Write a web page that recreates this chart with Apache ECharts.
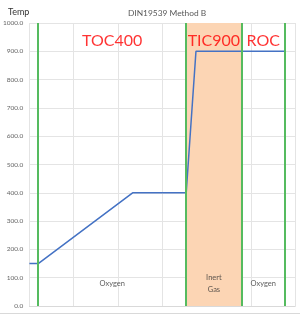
<!DOCTYPE html>
<html>
<head>
<meta charset="utf-8">
<script src="https://cdn.jsdelivr.net/npm/echarts@6/dist/echarts.min.js"></script>
<style>
html,body{margin:0;padding:0;background:#fff;}
#chart{width:300px;height:314px;}
</style>
</head>
<body>
<div id="chart"></div>
<script>
// Time axis (arbitrary grid units) and temperature profile
const timeX = [0, 0.2, 2.33, 3.54, 3.76, 5.77];
const tempY = [150, 150, 400, 400, 900, 900];
// Phase boundaries (green lines)
const phaseBounds = [0.2, 3.54, 4.79, 5.77];
const phaseNames = ['TOC400', 'TIC900', 'ROC'];
const gasNames = ['Oxygen', 'Inert\nGas', 'Oxygen'];
const inertIndex = 1;
const phaseLabelY = 936;
const gasLabelY = 80;
const yMin = 0, yMax = 1000, yStep = 100;
const xMin = 0, xMax = 6, xStep = 1;

const mids = phaseNames.map((n, i) => (phaseBounds[i] + phaseBounds[i + 1]) / 2);

const chart = echarts.init(document.getElementById('chart'), null, {renderer: 'canvas'});
chart.setOption({
  animation: false,
  backgroundColor: '#fff',
  title: [
    {text: 'DIN19539 Method B', left: 123, top: 4,
     textStyle: {fontFamily: 'Lato', fontSize: 8.4, fontWeight: 'normal', color: '#595959'}},
    {text: 'Temp', left: 3, top: 3,
     textStyle: {fontFamily: 'Lato', fontSize: 9, fontWeight: 'normal', color: '#333'}}
  ],
  grid: {left: 26.5, right: 4.8, top: 23, bottom: 8, containLabel: false},
  xAxis: {
    type: 'value', min: xMin, max: xMax, interval: xStep,
    axisLabel: {show: false}, axisTick: {show: false},
    axisLine: {show: true, lineStyle: {color: '#D9D9D9'}},
    splitLine: {show: true, lineStyle: {color: '#E4E4E4', width: 1}}
  },
  yAxis: {
    type: 'value', min: yMin, max: yMax, interval: yStep,
    axisLabel: {formatter: v => v.toFixed(1), fontFamily: 'Lato', fontSize: 6.5, color: '#666', margin: 6},
    axisTick: {show: false}, axisLine: {show: false},
    splitLine: {show: true, lineStyle: {color: '#E4E4E4', width: 1}}
  },
  graphic: [{
    type: 'line', silent: true,
    shape: {x1: 0, y1: 313.5, x2: 300, y2: 313.5},
    style: {stroke: '#D9D9D9', lineWidth: 1}
  }],
  series: [
    {
      type: 'line', name: 'band', data: [], silent: true, z: 1,
      markArea: {
        silent: true,
        itemStyle: {color: '#FCD5B4'},
        data: [[{xAxis: phaseBounds[inertIndex]}, {xAxis: phaseBounds[inertIndex + 1]}]]
      }
    },
    {
      type: 'line', name: 'Temp', z: 3,
      data: timeX.map((x, i) => [x, tempY[i]]),
      symbol: 'none',
      lineStyle: {color: '#4472C4', width: 1.5},
      markLine: {
        silent: true, symbol: 'none', label: {show: false},
        lineStyle: {color: '#55BB5F', width: 2, type: 'solid'},
        data: phaseBounds.map(x => ({xAxis: x}))
      }
    },
    {
      type: 'scatter', name: 'phases', symbolSize: 0, z: 5, silent: true,
      data: phaseNames.map((n, i) => ({value: [mids[i], phaseLabelY], name: n})),
      label: {show: true, position: 'inside', formatter: p => p.name,
        fontFamily: 'Lato', fontSize: 16, color: '#FF0000'}
    },
    {
      type: 'scatter', name: 'gases', symbolSize: 0, z: 5, silent: true,
      data: gasNames.map((n, i) => ({value: [mids[i], gasLabelY], name: n})),
      label: {show: true, position: 'inside', formatter: p => p.name,
        fontFamily: 'Lato', fontSize: 7.5, lineHeight: 11.5, color: '#333'}
    }
  ]
});
</script>
</body>
</html>
